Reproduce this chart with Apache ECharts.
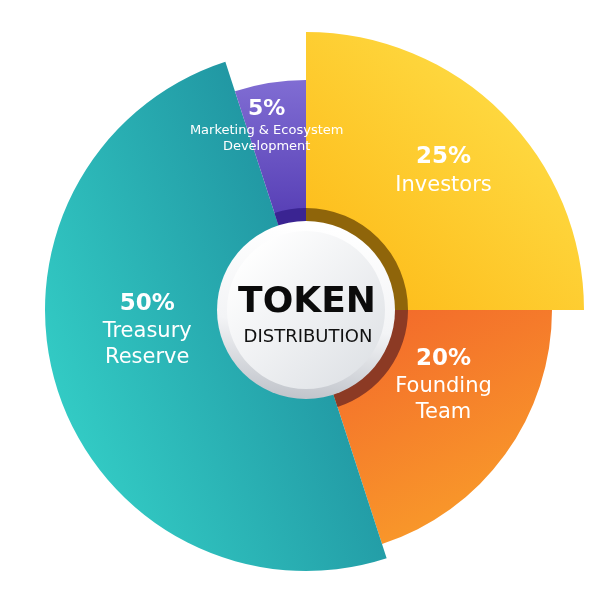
<!DOCTYPE html>
<html>
<head>
<meta charset="utf-8">
<script src="https://cdn.jsdelivr.net/npm/echarts@6/dist/echarts.min.js"></script>
<style>html,body{margin:0;padding:0;background:#fff}#c{width:600px;height:600px}</style>
</head>
<body>
<div id="c"></div>
<script>
// ---- data ----
var categories = ['Investors', 'Founding Team', 'Treasury Reserve', 'Marketing & Ecosystem Development'];
var values = [25, 20, 50, 5];
var labelLines = [['Investors'], ['Founding', 'Team'], ['Treasury', 'Reserve'], ['Marketing & Ecosystem', 'Development']];

// ---- styling ----
var CX = 306, CY = 310;
var outerR = [278, 246, 261, 230];
var innerR = 88;
var labelShift = [[6, -8], [0, -25], [10, -35], [-14, -25]];
var G = echarts.graphic;
var sliceColors = [
  new G.LinearGradient(306, 310, 500, 110, [{offset: 0, color: '#FDB713'}, {offset: 1, color: '#FED73E'}], true),
  new G.LinearGradient(360, 320, 470, 540, [{offset: 0, color: '#F36A2B'}, {offset: 1, color: '#F99D2A'}], true),
  new G.LinearGradient(60, 420, 360, 300, [{offset: 0, color: '#33CCC5'}, {offset: 1, color: '#1F919F'}], true),
  new G.LinearGradient(0, 80, 0, 215, [{offset: 0, color: '#806DD3'}, {offset: 1, color: '#5840B6'}], true)
];
var ringColors = ['#8F650A', '#8C3A24', 'rgba(0,0,0,0)', '#3A2492'];

function labelText(i) {
  var s = '{p|' + values[i] + '%}';
  labelLines[i].forEach(function (t) { s += '\n{' + (i === 3 ? 's' : 'n') + '|' + t + '}'; });
  return s;
}

var series = [];
categories.forEach(function (cat, i) {
  series.push({
    type: 'pie',
    center: [CX, CY],
    radius: [innerR, outerR[i]],
    startAngle: 90,
    clockwise: true,
    silent: true,
    avoidLabelOverlap: false,
    labelLine: {show: false},
    z: 1,
    labelLayout: {dx: labelShift[i][0], dy: labelShift[i][1]},
    data: categories.map(function (c, j) {
      return {
        name: c,
        value: values[j],
        itemStyle: {color: j === i ? sliceColors[i] : 'rgba(0,0,0,0)'},
        label: {
          show: j === i,
          position: 'inside',
          formatter: labelText(j),
          color: '#fff',
          fontFamily: 'DejaVu Sans',
          rich: {
            p: {fontSize: j === 3 ? 22 : 23, fontWeight: 'bold', color: '#fff', fontFamily: 'DejaVu Sans', lineHeight: j === 3 ? 28 : 30},
            n: {fontSize: 21, color: '#fff', fontFamily: 'DejaVu Sans', lineHeight: 26},
            s: {fontSize: 13, color: '#fff', fontFamily: 'DejaVu Sans', lineHeight: 16}
          }
        }
      };
    })
  });
});
// dark inner ring
series.push({
  type: 'pie',
  center: [CX, CY],
  radius: [innerR - 2, 102],
  startAngle: 90,
  silent: true,
  z: 2,
  label: {show: false},
  labelLine: {show: false},
  data: categories.map(function (c, j) {
    return {name: c, value: values[j], itemStyle: {color: ringColors[j]}};
  })
});

var chart = echarts.init(document.getElementById('c'), null, {renderer: 'canvas'});
chart.setOption({
  backgroundColor: '#ffffff',
  animation: false,
  series: series,
  graphic: [
    {type: 'circle', z: 100, shape: {cx: CX, cy: CY, r: 89},
      style: {fill: new G.LinearGradient(0.2, 0, 0.1, 1, [{offset: 0, color: '#ffffff'}, {offset: 0.55, color: '#f3f4f6'}, {offset: 1, color: '#bcc0c7'}])}},
    {type: 'circle', z: 101, shape: {cx: CX, cy: CY, r: 79},
      style: {fill: new G.LinearGradient(0.15, 0.1, 0.9, 0.9, [{offset: 0, color: '#ffffff'}, {offset: 1, color: '#dfe2e6'}])}},
    {type: 'text', z: 102, x: 307, y: 303,
      style: {text: 'TOKEN', fill: '#0b0b0b', font: 'bold 36px "DejaVu Sans"', align: 'center', verticalAlign: 'middle'}},
    {type: 'text', z: 102, x: 308, y: 337,
      style: {text: 'DISTRIBUTION', fill: '#111111', font: 'normal 18px "DejaVu Sans"', align: 'center', verticalAlign: 'middle'}}
  ]
});
</script>
</body>
</html>
